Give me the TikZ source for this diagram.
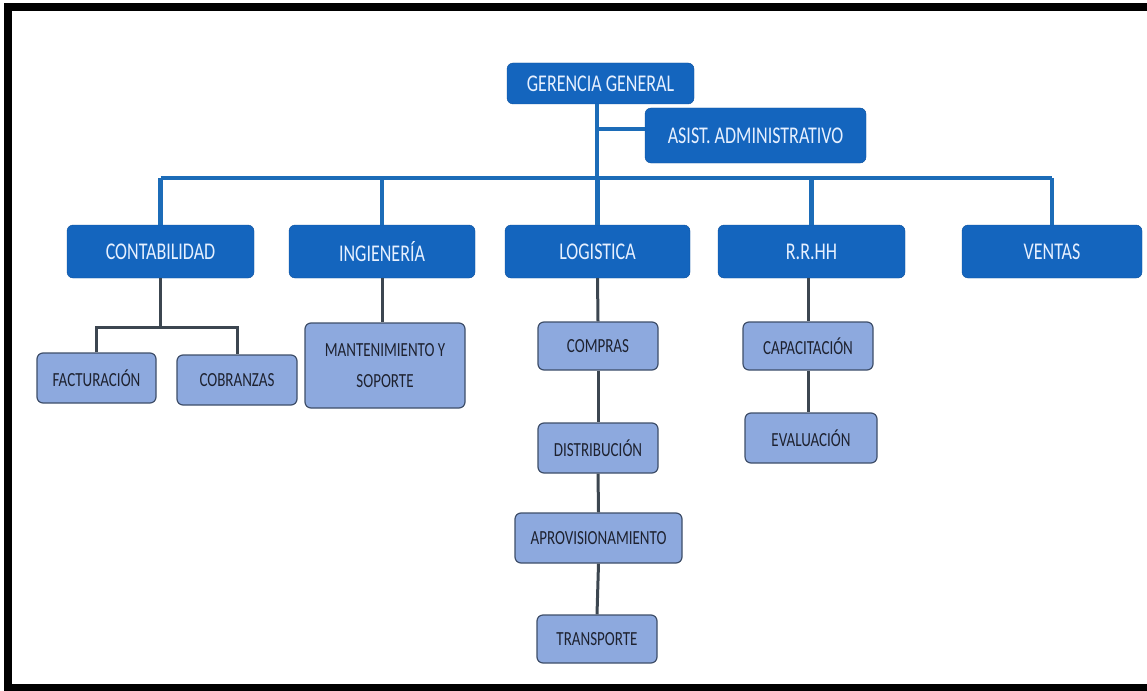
\documentclass[tikz,border=0pt]{standalone}
\usepackage{fontspec}
\setmainfont{Carlito}[FakeStretch=0.75]
\definecolor{deptblue}{RGB}{20,101,190}
\definecolor{deptedge}{RGB}{14,80,155}
\definecolor{depttext}{RGB}{230,240,255}
\definecolor{lineblue}{RGB}{28,108,184}
\definecolor{unitblue}{RGB}{141,169,222}
\definecolor{unitedge}{RGB}{62,78,105}
\definecolor{unittext}{RGB}{30,34,48}
\definecolor{linegray}{RGB}{60,70,80}
\begin{document}
\begin{tikzpicture}[x=1pt,y=-1pt,
    dept/.style={draw=deptedge, fill=deptblue, rounded corners=6pt, text=depttext,
                 font=\fontsize{24}{28}\selectfont, align=center, inner sep=0pt},
    unit/.style={draw=unitedge, line width=1.2pt, fill=unitblue, rounded corners=6pt,
                 text=unittext, font=\fontsize{20}{31}\selectfont, align=center, inner sep=0pt},
    mainline/.style={line width=4.5pt, draw=lineblue},
    subline/.style={line width=3pt, draw=linegray}]
    \useasboundingbox (0,0) rectangle (1147,690);
    % frame
    \draw[line width=8pt] (1147,7) -- (8,7) -- (8,687.5) -- (1147,687.5);
    % top
    \node[dept, minimum width=187pt, minimum height=41pt] (gg) at (600.5,83.5) {GERENCIA GENERAL};
    \node[dept, minimum width=221pt, minimum height=55pt] (asist) at (755.5,135.5) {ASIST. ADMINISTRATIVO};
    % departments
    \node[dept, minimum width=187pt, minimum height=53pt] (cont) at (160.5,251.5) {CONTABILIDAD};
    \node[dept, minimum width=186pt, minimum height=53pt] (ing) at (382,251.5) {INGIENERÍA};
    \node[dept, minimum width=185pt, minimum height=53pt] (log) at (597.5,251.5) {LOGISTICA};
    \node[dept, minimum width=187pt, minimum height=53pt] (rrhh) at (811.5,251.5) {R.R.HH};
    \node[dept, minimum width=180pt, minimum height=53pt] (vent) at (1052,251.5) {VENTAS};
    % units
    \node[unit, minimum width=119pt, minimum height=50pt] (fact) at (96.5,378) {FACTURACIÓN};
    \node[unit, minimum width=120pt, minimum height=50pt] (cobr) at (237,380) {COBRANZAS};
    \node[unit, minimum width=160pt, minimum height=85pt] (mant) at (385,365.5) {MANTENIMIENTO Y\\SOPORTE};
    \node[unit, minimum width=120pt, minimum height=48pt] (comp) at (598,346) {COMPRAS};
    \node[unit, minimum width=120pt, minimum height=50pt] (dist) at (598,448) {DISTRIBUCIÓN};
    \node[unit, minimum width=167pt, minimum height=50pt] (aprov) at (598.5,538) {APROVISIONAMIENTO};
    \node[unit, minimum width=120pt, minimum height=48pt] (trans) at (597,639) {TRANSPORTE};
    \node[unit, minimum width=130pt, minimum height=48pt] (capa) at (808,346) {CAPACITACIÓN};
    \node[unit, minimum width=132pt, minimum height=50pt] (eval) at (811,438) {EVALUACIÓN};
    % main connectors
    \coordinate (bus) at (597,178);
    \draw[mainline] (gg.south -| bus) -- (bus);
    \draw[mainline] (gg.south -| bus) ++(0,25) coordinate (stub) -- (stub -| asist.west);
    \draw[mainline] (cont.north |- bus) -- (vent.north |- bus);
    \foreach \d in {cont, ing, log, rrhh, vent} {
        \draw[mainline] (\d.north |- bus) -- (\d.north);
    }
    % sub connectors
    \coordinate (contbar) at (160,327);
    \draw[subline] (cont.south) -- (cont.south |- contbar);
    \draw[subline] (fact.north) -- (fact.north |- contbar) -- (cobr.north |- contbar) -- (cobr.north);
    \draw[subline] (ing.south) -- (mant.north -| ing.south);
    \draw[subline] (log.south) -- (comp.north);
    \draw[subline] (comp.south) -- (dist.north);
    \draw[subline] (dist.south) -- (aprov.north);
    \draw[subline] (aprov.south) -- (trans.north);
    \draw[subline] (rrhh.south -| capa.north) -- (capa.north);
    \draw[subline] (capa.south) -- (capa.south |- eval.north);
\end{tikzpicture}
\end{document}
